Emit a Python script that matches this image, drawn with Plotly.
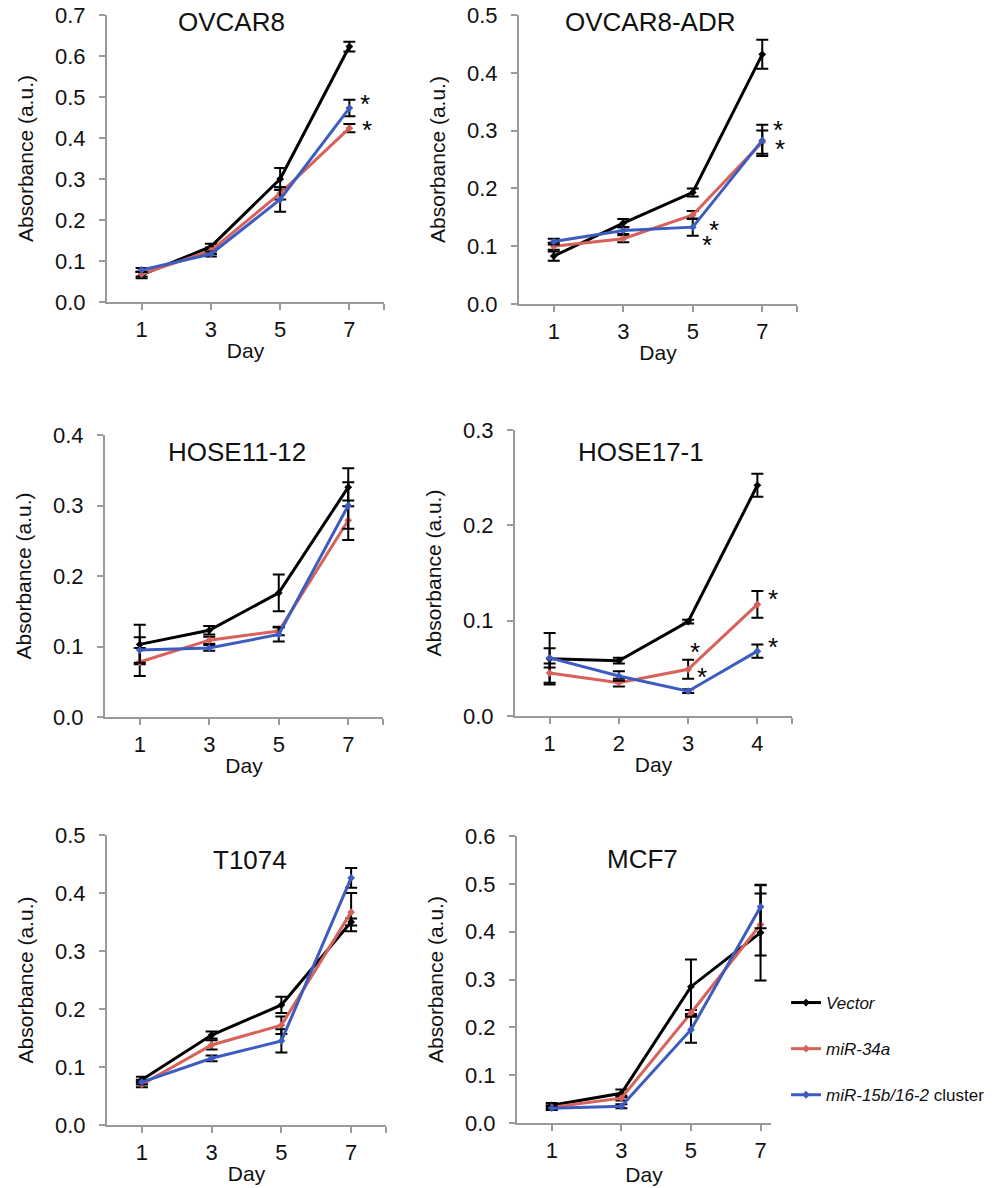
import plotly.graph_objects as go
from plotly.subplots import make_subplots

# ---------------- data ----------------
days_odd = [1, 3, 5, 7]
days_seq = [1, 2, 3, 4]

panel_titles = ["OVCAR8", "OVCAR8-ADR", "HOSE11-12", "HOSE17-1", "T1074", "MCF7"]
series_names = ["<i>Vector</i>", "<i>miR-34a</i>", "<i>miR-15b/16-2</i> cluster"]

ovcar8_vector = [0.066, 0.135, 0.300, 0.623]
ovcar8_vector_err = [0.008, 0.007, 0.027, 0.012]
ovcar8_mir34a = [0.068, 0.125, 0.265, 0.424]
ovcar8_mir34a_err = [0.006, 0.008, 0.015, 0.010]
ovcar8_cluster = [0.078, 0.117, 0.250, 0.473]
ovcar8_cluster_err = [0.005, 0.006, 0.030, 0.020]

adr_vector = [0.083, 0.140, 0.193, 0.432]
adr_vector_err = [0.008, 0.007, 0.007, 0.025]
adr_mir34a = [0.100, 0.113, 0.154, 0.280]
adr_mir34a_err = [0.006, 0.006, 0.007, 0.020]
adr_cluster = [0.108, 0.127, 0.133, 0.283]
adr_cluster_err = [0.005, 0.006, 0.015, 0.027]

hose1112_vector = [0.103, 0.123, 0.176, 0.326]
hose1112_vector_err = [0.028, 0.006, 0.026, 0.027]
hose1112_mir34a = [0.078, 0.109, 0.122, 0.279]
hose1112_mir34a_err = [0.020, 0.005, 0.006, 0.028]
hose1112_cluster = [0.095, 0.098, 0.117, 0.300]
hose1112_cluster_err = [0.018, 0.004, 0.010, 0.033]

hose171_vector = [0.060, 0.058, 0.099, 0.242]
hose171_vector_err = [0.027, 0.003, 0.002, 0.012]
hose171_mir34a = [0.045, 0.035, 0.049, 0.117]
hose171_mir34a_err = [0.010, 0.004, 0.010, 0.014]
hose171_cluster = [0.061, 0.042, 0.026, 0.068]
hose171_cluster_err = [0.010, 0.005, 0.002, 0.007]

t1074_vector = [0.078, 0.155, 0.207, 0.350]
t1074_vector_err = [0.005, 0.006, 0.014, 0.006]
t1074_mir34a = [0.070, 0.138, 0.172, 0.367]
t1074_mir34a_err = [0.005, 0.008, 0.015, 0.033]
t1074_cluster = [0.074, 0.115, 0.145, 0.426]
t1074_cluster_err = [0.004, 0.005, 0.020, 0.017]

mcf7_vector = [0.037, 0.062, 0.285, 0.398]
mcf7_vector_err = [0.005, 0.008, 0.057, 0.100]
mcf7_mir34a = [0.033, 0.052, 0.230, 0.415]
mcf7_mir34a_err = [0.004, 0.005, 0.006, 0.065]
mcf7_cluster = [0.031, 0.035, 0.195, 0.452]
mcf7_cluster_err = [0.004, 0.004, 0.027, 0.045]

y_max = [0.7, 0.5, 0.4, 0.3, 0.5, 0.6]

# significance asterisks: (panel index, day, absorbance)
asterisks = [
    (0, 7.45, 0.500), (0, 7.5, 0.437),
    (1, 7.45, 0.313), (1, 7.5, 0.280), (1, 5.6, 0.140), (1, 5.4, 0.114),
    (3, 3.1, 0.075), (3, 3.2, 0.048), (3, 4.22, 0.130), (3, 4.22, 0.080),
]

# ---------------- styling ----------------
colors = ["#000000", "#d7625a", "#3d5cbf"]
FONT = "Liberation Sans, Arial, Helvetica, sans-serif"
AXIS_GRAY = "#9a9a9a"
TEXT = "#111111"
OFF = 8                      # page body margin of the browser
W, H = 992 - OFF, 1188 - OFF  # figure size


def px_x(px):
    return (px - OFF) / W


def px_y(py):
    return 1 - (py - OFF) / H


panels = [
    (days_odd, [(ovcar8_vector, ovcar8_vector_err), (ovcar8_mir34a, ovcar8_mir34a_err), (ovcar8_cluster, ovcar8_cluster_err)]),
    (days_odd, [(adr_vector, adr_vector_err), (adr_mir34a, adr_mir34a_err), (adr_cluster, adr_cluster_err)]),
    (days_odd, [(hose1112_vector, hose1112_vector_err), (hose1112_mir34a, hose1112_mir34a_err), (hose1112_cluster, hose1112_cluster_err)]),
    (days_seq, [(hose171_vector, hose171_vector_err), (hose171_mir34a, hose171_mir34a_err), (hose171_cluster, hose171_cluster_err)]),
    (days_odd, [(t1074_vector, t1074_vector_err), (t1074_mir34a, t1074_mir34a_err), (t1074_cluster, t1074_cluster_err)]),
    (days_odd, [(mcf7_vector, mcf7_vector_err), (mcf7_mir34a, mcf7_mir34a_err), (mcf7_cluster, mcf7_cluster_err)]),
]

# plot-area screen boxes (left, right, top, bottom)
boxes = [
    (107, 384, 15, 302),
    (519, 797, 15, 304),
    (105, 383, 435, 717),
    (515, 792, 430, 716),
    (107, 386, 835, 1125),
    (517, 771, 836, 1123),
]
x_ranges = [[0, 8], [0, 8], [0, 8], [0.5, 4.5], [0, 8], [0, 7.3]]
end_tick = [True, True, True, True, True, False]
title_pos = [(231, 22), (650, 22), (237, 452), (641, 452), (250, 860), (642, 859)]

fig = make_subplots(rows=3, cols=2)

for i, (days, series) in enumerate(panels):
    r, c = i // 2 + 1, i % 2 + 1
    for s, (vals, errs) in enumerate(series):
        fig.add_trace(go.Scatter(
            x=days, y=vals, mode="lines+markers",
            name=series_names[s], legendgroup=series_names[s],
            showlegend=(i == 0),
            line=dict(color=colors[s], width=3),
            marker=dict(symbol="diamond", size=6, color=colors[s]),
            error_y=dict(type="data", array=errs, visible=True,
                         color="#000000", thickness=2, width=6),
        ), row=r, col=c)

layout_axes = {}
for i, (days, _) in enumerate(panels):
    l, rgt, t, b = boxes[i]
    suffix = "" if i == 0 else str(i + 1)
    tv = list(days) + ([x_ranges[i][1]] if end_tick[i] else [])
    tt = [str(d) for d in days] + ([""] if end_tick[i] else [])
    layout_axes["xaxis" + suffix] = dict(
        domain=[px_x(l), px_x(rgt)], range=x_ranges[i], automargin=False,
        tickvals=tv, ticktext=tt,
        showline=True, linecolor=AXIS_GRAY, linewidth=2,
        ticks="outside", tickcolor=AXIS_GRAY, tickwidth=2, ticklen=6,
        ticklabelstandoff=1, ticklabeloverflow="allow",
        showgrid=False, zeroline=False,
        tickfont=dict(family=FONT, size=22, color=TEXT),
        title=dict(text="Day", font=dict(family=FONT, size=21, color=TEXT), standoff=2),
    )
    layout_axes["yaxis" + suffix] = dict(
        domain=[px_y(b), px_y(t)], range=[0, y_max[i]], automargin=False,
        dtick=0.1, tick0=0, tickformat=".1f",
        showline=True, linecolor=AXIS_GRAY, linewidth=2,
        ticks="outside", tickcolor=AXIS_GRAY, tickwidth=2, ticklen=6,
        ticklabelstandoff=9, ticklabeloverflow="allow",
        showgrid=False, zeroline=False,
        tickfont=dict(family=FONT, size=22, color=TEXT),
        title=dict(text="Absorbance (a.u.)", font=dict(family=FONT, size=21, color=TEXT), standoff=16),
    )

annotations = []
for i, name in enumerate(panel_titles):
    px, py = title_pos[i]
    annotations.append(dict(
        text=name, x=px_x(px), y=px_y(py), xref="paper", yref="paper",
        xanchor="center", yanchor="middle", showarrow=False,
        font=dict(family=FONT, size=26, color=TEXT),
    ))
for (p, d, v) in asterisks:
    suffix = "" if p == 0 else str(p + 1)
    annotations.append(dict(
        text="*", x=d, y=v, xref="x" + suffix, yref="y" + suffix,
        xanchor="center", yanchor="middle", yshift=-7, showarrow=False,
        font=dict(family=FONT, size=26, color="#000000"),
    ))

fig.update_layout(
    template="none",
    width=W, height=H,
    margin=dict(l=0, r=0, t=0, b=0, pad=0),
    paper_bgcolor="white", plot_bgcolor="white",
    annotations=annotations,
    showlegend=True,
    legend=dict(
        x=px_x(786), y=px_y(985), xanchor="left", yanchor="top",
        font=dict(family=FONT, size=17, color=TEXT),
        tracegroupgap=21, itemwidth=30, bgcolor="rgba(0,0,0,0)",
    ),
    **layout_axes,
)

fig.write_html("out.html")
